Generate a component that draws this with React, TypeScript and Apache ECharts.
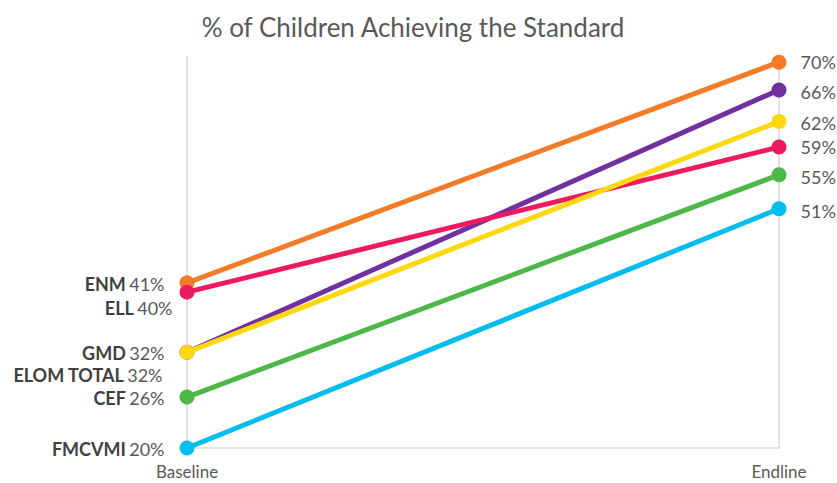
import React, { useEffect, useRef } from "react";
import * as echarts from "echarts";

const categories = ["Baseline", "Endline"];
const seriesNames = ["FMCVMI", "CEF", "ENM", "GMD", "ELL", "ELOM TOTAL"];
const colors = ["#00BDF0", "#4DB848", "#F47B28", "#7030A0", "#EE1A60", "#FFD80F"];
const baselineValues = [20, 26.6, 41.4, 32.4, 40.2, 32.4];
const endlineValues = [51, 55.4, 70, 66.4, 59, 62.3];
const baselineLabels = ["20%", "26%", "41%", "32%", "40%", "32%"];
const endlineLabels = ["51%", "55%", "70%", "66%", "59%", "62%"];
const baselineLabelOffsetX = [0, 0, 0, 0, 8, -2];
const baselineLabelOffsetY = [1, 1, 1, 1, 16, 23];
const endlineLabelOffsetY = [2, 2, 0, 2, 0, 1];

export default function App() {
  const ref = useRef<HTMLDivElement>(null);
  useEffect(() => {
    if (!ref.current) return;
    const chart = echarts.init(ref.current, null, { renderer: "svg" });
    const font = "Lato, 'Open Sans', sans-serif";
    const series = seriesNames.map((name, i) => ({
      name,
      type: "line",
      data: [
        {
          value: baselineValues[i],
          label: {
            show: true,
            position: "left",
            distance: 15,
            offset: [baselineLabelOffsetX[i], baselineLabelOffsetY[i]],
            formatter: `{b|${name}} {v|${baselineLabels[i]}}`,
            rich: {
              b: { fontFamily: font, fontWeight: "bold", fontSize: 18, color: "#404040", letterSpacing: -0.6 },
              v: { fontFamily: font, fontSize: 18, color: "#595959" },
            },
          },
        },
        {
          value: endlineValues[i],
          label: {
            show: true,
            position: "right",
            distance: 14,
            offset: [0, endlineLabelOffsetY[i]],
            formatter: endlineLabels[i],
            fontFamily: font,
            fontSize: 18,
            color: "#595959",
          },
        },
      ],
      symbol: "circle",
      symbolSize: 15,
      lineStyle: { width: 5, color: colors[i] },
      itemStyle: { color: colors[i] },
      z: 2 + i,
      zlevel: 0,
    }));
    chart.setOption({
      animation: false,
      title: {
        text: "% of Children Achieving the Standard",
        left: 408,
        top: 9,
        textAlign: "center",
        textStyle: { fontFamily: font, fontSize: 26, fontWeight: "normal", color: "#595959" },
      },
      grid: { left: 187, right: 58, top: 56, bottom: 35 },
      xAxis: {
        type: "category",
        data: categories,
        boundaryGap: false,
        axisLine: { show: true, lineStyle: { color: "#d9d9d9", width: 1.5 } },
        axisTick: { show: false },
        splitLine: { show: true, lineStyle: { color: "#d9d9d9", width: 1.5 } },
        axisLabel: { fontFamily: font, fontSize: 17, lineHeight: 17, color: "#595959", margin: 15 },
      },
      yAxis: {
        type: "value",
        min: 20,
        max: 70.8,
        show: false,
        splitLine: { show: false },
      },
      series,
    });
    return () => chart.dispose();
  }, []);
  return (
    <div
      ref={ref}
      style={{ position: "fixed", left: 0, top: 0, width: 837, height: 483, background: "#fff" }}
    />
  );
}
